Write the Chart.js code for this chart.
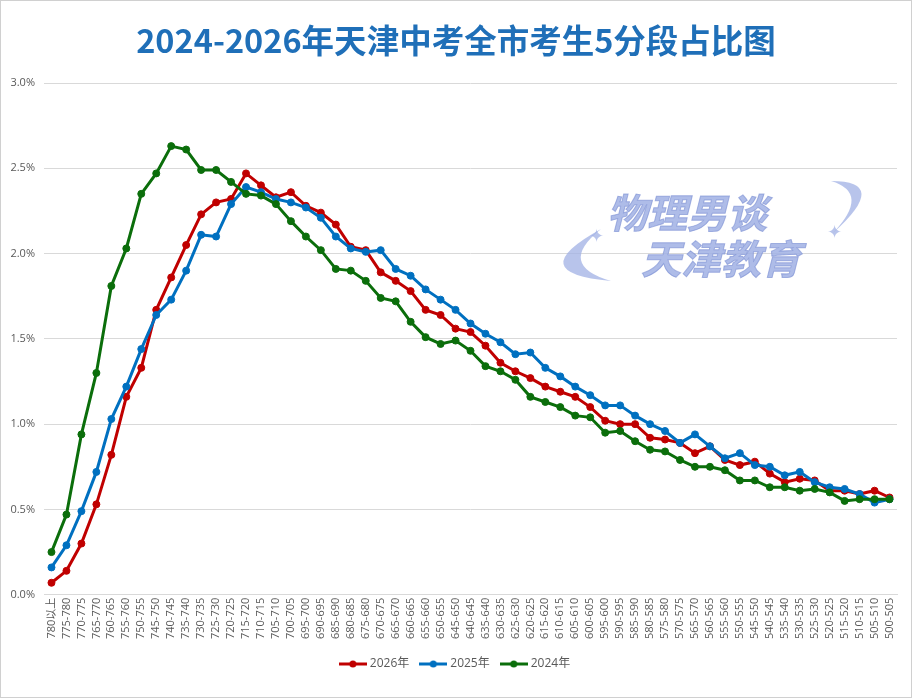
<!DOCTYPE html>
<html>
<head>
<meta charset="utf-8">
<script src="https://cdn.jsdelivr.net/npm/chart.js@4.4.1/dist/chart.umd.min.js"></script>
<style>
  html, body { margin: 0; padding: 0; background: #fff; }
  #wrap { width: 912px; height: 698px; box-sizing: border-box; border: 1px solid #d0d0d0; position: relative; }
  #chart { display: block; }
</style>
</head>
<body>
<div id="wrap"><canvas id="chart" width="910" height="696"></canvas></div>
<script>
// score bands (5 points each)
const categories = [
  "780以上", "775-780", "770-775", "765-770", "760-765", "755-760", "750-755", "745-750",
  "740-745", "735-740", "730-735", "725-730", "720-725", "715-720", "710-715", "705-710",
  "700-705", "695-700", "690-695", "685-690", "680-685", "675-680", "670-675", "665-670",
  "660-665", "655-660", "650-655", "645-650", "640-645", "635-640", "630-635", "625-630",
  "620-625", "615-620", "610-615", "605-610", "600-605", "595-600", "590-595", "585-590",
  "580-585", "575-580", "570-575", "565-570", "560-565", "555-560", "550-555", "545-550",
  "540-545", "535-540", "530-535", "525-530", "520-525", "515-520", "510-515", "505-510",
  "500-505"
];

// share of all candidates, in %
const share2026 = [
  0.07, 0.14, 0.30, 0.53, 0.82, 1.16, 1.33, 1.67, 1.86, 2.05,
  2.23, 2.30, 2.32, 2.47, 2.40, 2.33, 2.36, 2.28, 2.24, 2.17,
  2.04, 2.02, 1.89, 1.84, 1.78, 1.67, 1.64, 1.56, 1.54, 1.46,
  1.36, 1.31, 1.27, 1.22, 1.19, 1.16, 1.10, 1.02, 1.00, 1.00,
  0.92, 0.91, 0.89, 0.83, 0.87, 0.79, 0.76, 0.78, 0.71, 0.66,
  0.68, 0.67, 0.61, 0.61, 0.59, 0.61, 0.57
];
const share2025 = [
  0.16, 0.29, 0.49, 0.72, 1.03, 1.22, 1.44, 1.64, 1.73, 1.90,
  2.11, 2.10, 2.29, 2.39, 2.36, 2.32, 2.30, 2.27, 2.21, 2.10,
  2.03, 2.01, 2.02, 1.91, 1.87, 1.79, 1.73, 1.67, 1.59, 1.53,
  1.48, 1.41, 1.42, 1.33, 1.28, 1.22, 1.17, 1.11, 1.11, 1.05,
  1.00, 0.96, 0.89, 0.94, 0.87, 0.80, 0.83, 0.76, 0.75, 0.70,
  0.72, 0.66, 0.63, 0.62, 0.59, 0.54, 0.56
];
const share2024 = [
  0.25, 0.47, 0.94, 1.30, 1.81, 2.03, 2.35, 2.47, 2.63, 2.61,
  2.49, 2.49, 2.42, 2.35, 2.34, 2.29, 2.19, 2.10, 2.02, 1.91,
  1.90, 1.84, 1.74, 1.72, 1.60, 1.51, 1.47, 1.49, 1.43, 1.34,
  1.31, 1.26, 1.16, 1.13, 1.10, 1.05, 1.04, 0.95, 0.96, 0.90,
  0.85, 0.84, 0.79, 0.75, 0.75, 0.73, 0.67, 0.67, 0.63, 0.63,
  0.61, 0.62, 0.60, 0.55, 0.56, 0.56, 0.56
];

const yTicks = [0, 0.5, 1.0, 1.5, 2.0, 2.5, 3.0];

const RED = "#C00000";
const BLUE = "#0070C0";
const GREEN = "#0B6E0B";
const GREY = "#595959";
const FONT = "'Open Sans', 'Noto Sans CJK SC', sans-serif";

// little line-with-dot icon for the legend
function legendIcon(color) {
  const c = document.createElement("canvas");
  c.width = 28;
  c.height = 10;
  const g = c.getContext("2d");
  g.strokeStyle = color;
  g.lineWidth = 3;
  g.beginPath();
  g.moveTo(0, 5);
  g.lineTo(28, 5);
  g.stroke();
  g.fillStyle = color;
  g.beginPath();
  g.arc(14, 5, 3.5, 0, Math.PI * 2);
  g.fill();
  return c;
}

function series(label, data, color) {
  return {
    label: label,
    data: data,
    borderColor: color,
    backgroundColor: color,
    borderWidth: 3,
    pointRadius: 3.5,
    pointHoverRadius: 4,
    pointBackgroundColor: color,
    pointBorderColor: color,
    pointBorderWidth: 1,
    tension: 0,
    fill: false,
    legendIcon: legendIcon(color)
  };
}

// let the y labels use the left padding strip (otherwise they get clipped)
const widenYAxis = {
  id: "widenYAxis",
  afterLayout(chart) {
    const y = chart.scales.y;
    y.width = y.right;
    y.left = 0;
  }
};

// watermark drawn under the lines
const watermark = {
  id: "watermark",
  beforeDatasetsDraw(chart) {
    const ctx = chart.ctx;
    ctx.save();
    ctx.fillStyle = "rgba(160,176,228,0.85)";
    ctx.strokeStyle = "rgba(120,140,210,0.6)";
    ctx.lineWidth = 1;
    ctx.font = "italic bold 40px 'Noto Sans CJK SC', sans-serif";
    ctx.textBaseline = "middle";
    ctx.fillText("物理男谈", 606, 212);
    ctx.strokeText("物理男谈", 606, 212);
    ctx.fillText("天津教育", 640, 258);
    ctx.strokeText("天津教育", 640, 258);
    // swoosh
    ctx.fillStyle = "rgba(160,176,228,0.75)";
    ctx.beginPath();
    ctx.moveTo(600, 228);
    ctx.quadraticCurveTo(520, 272, 610, 280);
    ctx.quadraticCurveTo(555, 264, 600, 228);
    ctx.fill();
    ctx.beginPath();
    ctx.moveTo(832, 232);
    ctx.quadraticCurveTo(890, 180, 830, 180);
    ctx.quadraticCurveTo(870, 192, 832, 232);
    ctx.fill();
    ctx.font = "bold 18px 'DejaVu Sans', sans-serif";
    ctx.fillText("✦", 588, 236);
    ctx.fillText("✦", 826, 232);
    ctx.restore();
  }
};

const ctx = document.getElementById("chart").getContext("2d");

new Chart(ctx, {
  type: "line",
  data: {
    labels: categories,
    // 2024 first so it is painted on top, legend is re-sorted below
    datasets: [
      series("2024年", share2024, GREEN),
      series("2025年", share2025, BLUE),
      series("2026年", share2026, RED)
    ]
  },
  options: {
    responsive: false,
    animation: false,
    layout: {
      padding: { left: 14, right: 14, top: 0, bottom: 17 }
    },
    scales: {
      x: {
        offset: true,
        grid: { display: false, drawTicks: false },
        border: { display: true, color: "#d9d9d9", width: 1 },
        afterFit(scale) {
          scale.height += 3;
        },
        ticks: {
          autoSkip: false,
          minRotation: 90,
          maxRotation: 90,
          padding: 3,
          color: GREY,
          font: { family: FONT, size: 11 }
        }
      },
      y: {
        min: 0,
        max: 3,
        afterBuildTicks(scale) {
          scale.ticks = yTicks.map((v) => ({ value: v }));
        },
        afterFit(scale) {
          scale.width = 29;
        },
        grid: { color: "#d9d9d9", lineWidth: 1, drawTicks: false },
        border: { display: false },
        ticks: {
          padding: 9,
          color: GREY,
          font: { family: FONT, size: 11 },
          callback: (v) => v.toFixed(1) + "%"
        }
      }
    },
    plugins: {
      title: {
        display: true,
        text: "2024-2026年天津中考全市考生5分段占比图",
        color: "#1F6FB8",
        font: { family: "'Noto Sans CJK SC', sans-serif", size: 32.5, weight: "bold" },
        padding: { top: 20, bottom: 23 }
      },
      legend: {
        position: "bottom",
        labels: {
          usePointStyle: true,
          pointStyleWidth: 22,
          boxHeight: 10,
          padding: 13,
          color: GREY,
          font: { family: FONT, size: 12 },
          generateLabels(chart) {
            const items = Chart.defaults.plugins.legend.labels.generateLabels(chart);
            items.forEach((it) => {
              it.pointStyle = chart.data.datasets[it.datasetIndex].legendIcon;
            });
            return items;
          },
          sort: (a, b) => b.datasetIndex - a.datasetIndex
        }
      },
      tooltip: {
        callbacks: {
          label: (c) => `${c.dataset.label}: ${c.parsed.y.toFixed(2)}%`
        }
      }
    }
  },
  plugins: [widenYAxis, watermark]
});
</script>
</body>
</html>
